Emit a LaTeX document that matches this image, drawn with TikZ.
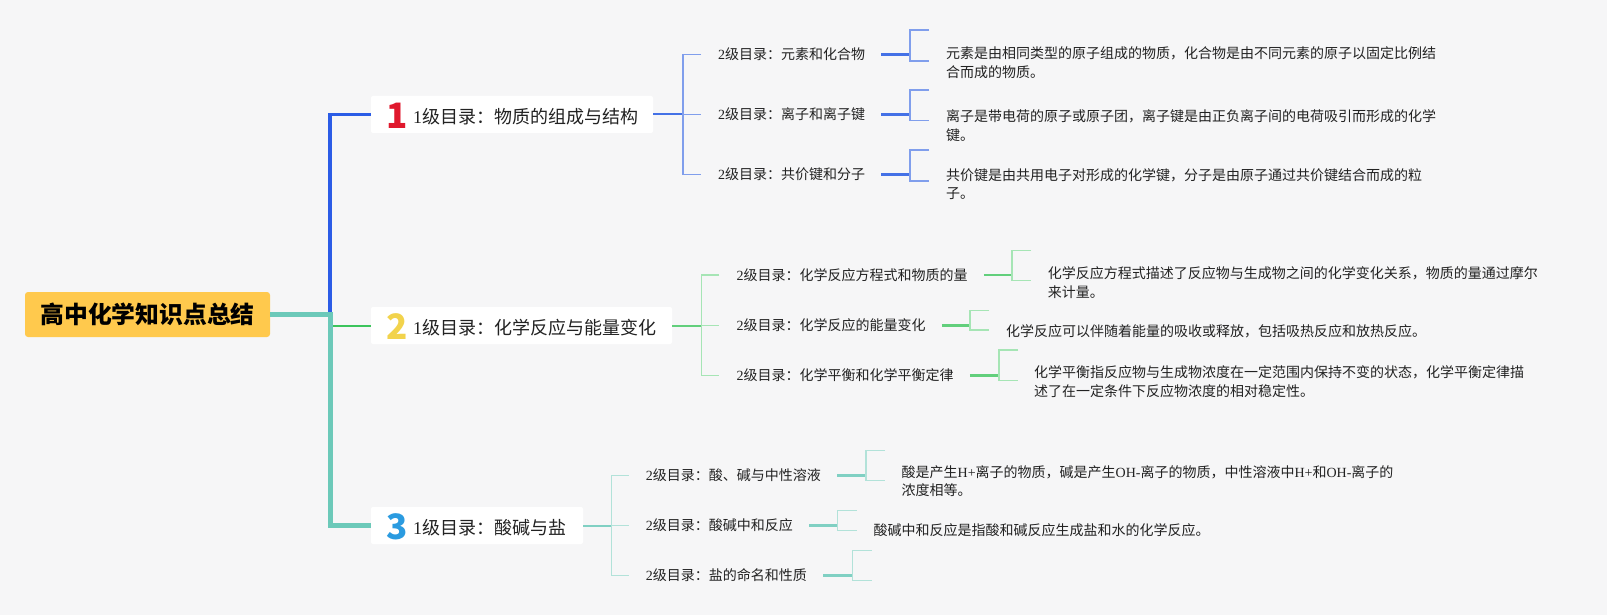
\documentclass[tikz,border=0pt]{standalone}
\usepackage{fontspec}
\setmainfont{Noto Sans CJK SC}
\newfontfamily\latn{Liberation Serif}
\definecolor{bgc}{HTML}{F6F6F7}
\definecolor{txtc}{HTML}{222222}
\definecolor{rootc}{HTML}{FFC94D}
\definecolor{bluemain}{HTML}{2B5CE6}
\definecolor{bluemid}{HTML}{4471E6}
\definecolor{bluelight}{HTML}{809EEC}
\definecolor{greenmain}{HTML}{3CC45C}
\definecolor{greenmid}{HTML}{62CF7C}
\definecolor{greenlight}{HTML}{A6E5B5}
\definecolor{tealmain}{HTML}{6CC9B9}
\definecolor{tealmid}{HTML}{80D0C3}
\definecolor{teallight}{HTML}{B2E2D9}
\definecolor{numred}{HTML}{E0182D}
\definecolor{numyellow}{HTML}{F2D34C}
\definecolor{numblue}{HTML}{2B9BE0}
\newcommand\mybrk[4]{%
  \draw[#4] ([shift={(19pt,#2pt)}]#1) -- ([yshift=#2pt]#1) -- ([yshift=-#3pt]#1) -- ([shift={(19pt,-#3pt)}]#1);}
\begin{document}
\begin{tikzpicture}[x=1pt,y=-1pt,
  rootbox/.style={fill=rootc, rounded corners=3pt, minimum width=245pt, minimum height=45pt, inner sep=0pt, text=black, font=\bfseries\fontsize{23.8}{26}\selectfont},
  lonebox/.style={fill=white, rounded corners=2pt, minimum height=37pt, inner sep=0pt},
  numtxt/.style={font=\bfseries\fontsize{35}{35}\selectfont, inner sep=0pt},
  lonetxt/.style={font=\fontsize{18}{22}\selectfont, anchor=west, inner sep=0pt, text=txtc},
  ltwotxt/.style={font=\fontsize{14}{18}\selectfont, anchor=west, inner sep=0pt, text=txtc},
  desctxt/.style={font=\fontsize{14}{18.5}\selectfont, anchor=west, align=left, inner sep=0pt, text=txtc},
  bl1/.style={bluemid, line width=2pt},
  bl2/.style={bluelight, line width=1.5pt},
  bl3/.style={bluemid, line width=2.5pt},
  gl1/.style={greenmid, line width=2pt},
  gl2/.style={greenlight, line width=1.5pt},
  gl3/.style={greenmid, line width=2.5pt},
  tl1/.style={tealmid, line width=2pt},
  tl2/.style={teallight, line width=1.5pt},
  tl3/.style={tealmid, line width=2.5pt}]
\useasboundingbox (0,0) rectangle (1607,615);
\fill[bgc] (0,0) rectangle (1607,615);

% root
\node[rootbox] (root) at (147.5,314.5) {高中化学知识点总结};

% level 1 boxes
\node[lonebox, minimum width=282pt] (b1) at (512,114.5) {};
\node[lonebox, minimum width=301pt] (b2) at (521.5,325.5) {};
\node[lonebox, minimum width=212pt] (b3) at (477,525.5) {};
\node[numtxt, text=numred] (n1) at (397,116) {1};
\node[numtxt, text=numyellow] (n2) at (397,327) {2};
\node[numtxt, text=numblue] (n3) at (397,527) {3};
\node[lonetxt] (t1) at (413,116.5) {{\latn 1}级目录：物质的组成与结构};
\node[lonetxt] (t2) at (413,327.5) {{\latn 1}级目录：化学反应与能量变化};
\node[lonetxt] (t3) at (413,527.5) {{\latn 1}级目录：酸碱与盐};

% trunk
\coordinate (jt) at (330,314.5);
\coordinate (jg) at (330,325.5);
\draw[bluemain, line width=3.5pt] (jt) |- (b1.west);
\draw[greenmain, line width=2pt] (jg) -- (b2.west);
\draw[tealmain, line width=5pt] (root.east) -- (jt) |- (b3.west);

% ---------- branch 1 ----------
\node[ltwotxt] (s11) at (718,54.5) {{\latn 2}级目录：元素和化合物};
\node[ltwotxt] (s12) at (718,114.5) {{\latn 2}级目录：离子和离子键};
\node[ltwotxt] (s13) at (718,174.5) {{\latn 2}级目录：共价键和分子};
\coordinate (j1) at (683,114.5);
\draw[bl1] (b1.east) -- (j1);
\draw[bl2] ([xshift=-17pt]s11.west) -| (j1) |- ([xshift=-17pt]s13.west);
\draw[bl2] (j1) -- ([xshift=-17pt]s12.west);
\coordinate (k11) at (910,54.5);
\coordinate (k12) at (910,114.5);
\coordinate (k13) at (910,174.5);
\draw[bl3] ([xshift=16pt]s11.east) -- (k11);
\draw[bl3] ([xshift=16pt]s12.east) -- (k12);
\draw[bl3] ([xshift=16pt]s13.east) -- (k13);
\mybrk{k11}{24.3}{6.4}{bl2}
\mybrk{k12}{24.3}{6}{bl2}
\mybrk{k13}{24.3}{6.4}{bl2}
\node[desctxt] (d11) at (946,62.5) {元素是由相同类型的原子组成的物质，化合物是由不同元素的原子以固定比例结\\合而成的物质。};
\node[desctxt] (d12) at (946,125.9) {离子是带电荷的原子或原子团，离子键是由正负离子间的电荷吸引而形成的化学\\键。};
\node[desctxt] (d13) at (946,184.2) {共价键是由共用电子对形成的化学键，分子是由原子通过共价键结合而成的粒\\子。};

% ---------- branch 2 ----------
\node[ltwotxt] (s21) at (736.4,274.8) {{\latn 2}级目录：化学反应方程式和物质的量};
\node[ltwotxt] (s22) at (736.4,325.5) {{\latn 2}级目录：化学反应的能量变化};
\node[ltwotxt] (s23) at (736.4,375.5) {{\latn 2}级目录：化学平衡和化学平衡定律};
\coordinate (j2) at (701.4,325.5);
\draw[gl1] (b2.east) -- (j2);
\draw[gl2] ([xshift=-17pt]s21.west) -| (j2) |- ([xshift=-17pt]s23.west);
\draw[gl2] (j2) -- ([xshift=-17pt]s22.west);
\coordinate (k21) at (1012,274.8);
\coordinate (k22) at (970,325.5);
\coordinate (k23) at (999,375.5);
\draw[gl3] ([xshift=16pt]s21.east) -- (k21);
\draw[gl3] ([xshift=16pt]s22.east) -- (k22);
\draw[gl3] ([xshift=16pt]s23.east) -- (k23);
\mybrk{k21}{24.3}{5.7}{gl2}
\mybrk{k22}{15}{4.3}{gl2}
\mybrk{k23}{25.7}{5}{gl2}
\node[desctxt] (d21) at (1047.6,282.5) {化学反应方程式描述了反应物与生成物之间的化学变化关系，物质的量通过摩尔\\来计量。};
\node[desctxt] (d22) at (1006,331.7) {化学反应可以伴随着能量的吸收或释放，包括吸热反应和放热反应。};
\node[desctxt] (d23) at (1033.8,381.9) {化学平衡指反应物与生成物浓度在一定范围内保持不变的状态，化学平衡定律描\\述了在一定条件下反应物浓度的相对稳定性。};

% ---------- branch 3 ----------
\node[ltwotxt] (s31) at (645.6,475.5) {{\latn 2}级目录：酸、碱与中性溶液};
\node[ltwotxt] (s32) at (645.6,525.5) {{\latn 2}级目录：酸碱中和反应};
\node[ltwotxt] (s33) at (645.6,575.5) {{\latn 2}级目录：盐的命名和性质};
\coordinate (j3) at (611.5,525.5);
\draw[tl1] (b3.east) -- (j3);
\draw[tl2] ([xshift=-17pt]s31.west) -| (j3) |- ([xshift=-17pt]s33.west);
\draw[tl2] (j3) -- ([xshift=-17pt]s32.west);
\coordinate (k31) at (866,475.5);
\coordinate (k32) at (837.5,525.5);
\coordinate (k33) at (852.7,575.5);
\draw[tl3] ([xshift=16pt]s31.east) -- (k31);
\draw[tl3] ([xshift=16pt]s32.east) -- (k32);
\draw[tl3] ([xshift=16pt]s33.east) -- (k33);
\mybrk{k31}{25}{5}{tl2}
\mybrk{k32}{15}{5}{tl2}
\mybrk{k33}{25}{5}{tl2}
\node[desctxt] (d31) at (901.5,481) {酸是产生{\latn H+}离子的物质，碱是产生{\latn OH-}离子的物质，中性溶液中{\latn H+}和{\latn OH-}离子的\\浓度相等。};
\node[desctxt] (d32) at (873.3,530) {酸碱中和反应是指酸和碱反应生成盐和水的化学反应。};
\end{tikzpicture}
\end{document}
